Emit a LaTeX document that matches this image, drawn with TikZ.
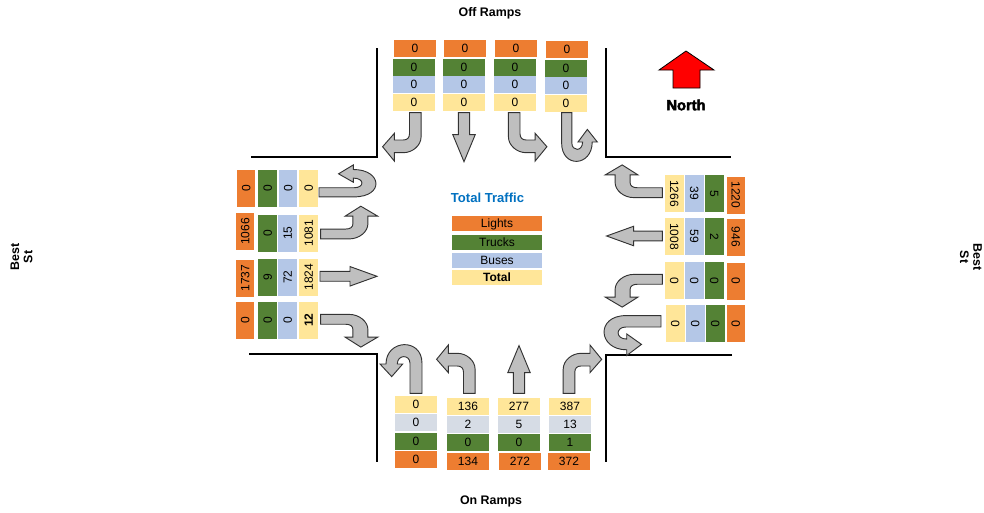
\documentclass[tikz,border=0pt]{standalone}
\usepackage{fontspec}
\setmainfont{Liberation Sans}
\newfontfamily\northfont[UprightFont=* Bold,FakeBold=3]{Liberation Sans}
\definecolor{lightscol}{HTML}{ED7D31}
\definecolor{truckscol}{HTML}{548235}
\definecolor{busescol}{HTML}{B4C7E7}
\definecolor{rampcol}{HTML}{D6DCE5}
\definecolor{totalcol}{HTML}{FFE699}
\definecolor{titlecol}{HTML}{0070C0}
\tikzset{
  cell/.style={inner sep=0pt,minimum width=31.5pt,minimum height=12.75pt,text height=6.5pt,text depth=0pt,font=\fontsize{9}{10}\selectfont},
  sidecell/.style={cell,minimum width=27.75pt,minimum height=14pt},
  legendcell/.style={cell,minimum width=67.5pt,minimum height=11.25pt},
  lights/.style={fill=lightscol},
  trucks/.style={fill=truckscol},
  buses/.style={fill=busescol},
  ramp/.style={fill=rampcol},
  total/.style={fill=totalcol},
  boldtotal/.style={fill=totalcol,font=\fontsize{9}{10}\selectfont\bfseries},
  heading/.style={font=\fontsize{9.3}{10}\selectfont\bfseries,align=center},
  road/.style={line width=1.5pt},
  blockarrow/.style={fill=black!25,draw=black!80,line width=.7pt,line join=miter},
  turnarrow/.pic={
    \draw[blockarrow] (5.8,0) -- (5.8,24) .. controls (5.8,33) and (-3,40) .. (-12,40)
      -- (-21,40) -- (-21,48.3) -- (-32.7,34) -- (-21,20.7) -- (-21,27.3) -- (-12,27.3)
      .. controls (-8,27.3) and (-5.8,25) .. (-5.8,21) -- (-5.8,0) -- cycle;
  },
  uturnarrow/.pic={
    \draw[blockarrow] (6,0) -- (6,30) .. controls (6,56) and (-30,54) .. (-30,29.3)
      -- (-36,29.3) -- (-24.3,16.7) -- (-13.3,29.3) -- (-18.7,29.3)
      .. controls (-18.7,39) and (-6,39) .. (-6,30) -- (-6,0) -- cycle;
  },
  pics/straightarrow/.style={code={
    \draw[blockarrow] (5.7,0) -- (5.7,#1) -- (11.2,#1) -- (0,#1+27) -- (-11.2,#1)
      -- (-5.7,#1) -- (-5.7,0) -- cycle;
  }},
}
\begin{document}
\begin{tikzpicture}[x=.75pt,y=.75pt]
\useasboundingbox (0,0) rectangle (984,512);
% Road corners :
\draw[road] (377,464) -- (377,355) -- (251,355);
\draw[road] (606,464) -- (606,355) -- (731,355);
\draw[road] (249,158) -- (377,158) -- (377,50);
\draw[road] (732,157) -- (606,157) -- (606,50);
% Off ramps :
\foreach \kind/\x/\y/\val [count=\i] in {lights/415/463.5/0,trucks/414/444.5/0,buses/414/427.5/0,total/414/409.5/0,
    lights/465/463.5/0,trucks/464/444.5/0,buses/464/427.5/0,total/464/409.5/0,
    lights/516/463.5/0,trucks/515/444.5/0,buses/515/427.5/0,total/515/409.5/0,
    lights/567/462.5/0,trucks/566/443.5/0,buses/566/426.5/0,total/566/408.5/0}
  \node[cell,\kind] (off\i) at (\x,\y) {\val};
% On ramps :
\foreach \kind/\x/\y/\val [count=\i] in {total/416/107.5/0,ramp/416/89.5/0,trucks/416/70.5/0,lights/416/52.5/0,
    total/468/105.5/136,ramp/468/87.5/2,trucks/468/69.5/0,lights/468/50.5/134,
    total/519/105.5/277,ramp/519/87.5/5,trucks/519/69.5/0,lights/520/50.5/272,
    total/570/105.5/387,ramp/570/87.5/13,trucks/570/69.5/1,lights/569/50.5/372}
  \node[cell,\kind] (on\i) at (\x,\y) {\val};
% West side :
\foreach \kind/\x/\y/\val [count=\i] in {lights/246/324/0,trucks/267.5/324/0,buses/288/324/0,total/308.5/324/0,
    lights/245/280.5/1066,trucks/267.5/279/0,buses/287.5/279/15,total/308.5/279/1081,
    lights/245/234/1737,trucks/267.5/235/9,buses/287.5/235/72,total/308.5/235/1824,
    lights/245/192/0,trucks/267.5/192/0,buses/287.5/192/0,boldtotal/308.5/192/12}
  \node[sidecell,rotate=90,\kind] (west\i) at (\x,\y) {\val};
% East side :
\foreach \kind/\x/\y/\val [count=\i] in {total/674.5/318.5/1266,buses/694.5/318.5/39,trucks/714.5/318.5/5,lights/736/317/1220,
    total/674.5/275.5/1008,buses/694.5/275.5/59,trucks/714.5/275.5/2,lights/736/275/946,
    total/674.5/231.5/0,buses/694.5/231.5/0,trucks/714.5/231.5/0,lights/736/231/0,
    total/675.5/188.5/0,buses/695.5/188.5/0,trucks/715.5/188.5/0,lights/736/188.5/0}
  \node[sidecell,rotate=-90,\kind] (east\i) at (\x,\y) {\val};
% Off ramp arrows :
\pic[rotate=180,xscale=-1] at (415.3,399.3) {turnarrow};
\pic[rotate=180] at (464,399.3) {straightarrow=22};
\pic[rotate=180] at (514.2,399.3) {turnarrow};
\pic[rotate=180,xscale=.85] at (566.7,399.3) {uturnarrow};
% On ramp arrows :
\pic at (416,118.7) {uturnarrow};
\pic at (469.3,118.7) {turnarrow};
\pic at (519,118.7) {straightarrow=20.7};
\pic[xscale=-1] at (569,118.7) {turnarrow};
% West arrows :
\pic[rotate=-90,xscale=.76,yscale=1.17] at (319,319.7) {uturnarrow};
\pic[rotate=-90,xscale=.85,yscale=1.18] at (320.7,278) {turnarrow};
\pic[rotate=-90,xscale=.87] at (320,235.7) {straightarrow=30};
\pic[rotate=-90,xscale=-.85,yscale=1.18] at (320.7,192.7) {turnarrow};
% East arrows :
\pic[rotate=90,xscale=-.85,yscale=1.18] at (662.3,319.3) {turnarrow};
\pic[rotate=90,xscale=.87] at (662.3,276) {straightarrow=28.7};
\pic[rotate=90,xscale=.85,yscale=1.18] at (662.3,232.7) {turnarrow};
\pic[rotate=90,xscale=.95,yscale=1.17] at (661,190.7) {uturnarrow};
% Legend :
\node[font=\fontsize{9.8}{10}\selectfont\bfseries,text=titlecol] (legendtitle) at (487.5,314) {Total Traffic};
\node[legendcell,lights] (legendlights) at (497,288.5) {Lights};
\node[legendcell,trucks] (legendtrucks) at (497,269.5) {Trucks};
\node[legendcell,buses] (legendbuses) at (497,251.5) {Buses};
\node[legendcell,boldtotal] (legendtotal) at (497,234.5) {Total};
% North arrow :
\draw[fill=red,draw=black,line width=.6pt] (673,424) -- (673,442) -- (659,442) -- (686,461) -- (714,442) -- (700,442) -- (700,424) -- cycle;
\node[font=\fontsize{11}{12}\selectfont\northfont] (north) at (686,407) {North};
% Street names :
\node[heading] (offramps) at (490,498.5) {Off Ramps};
\node[heading] (onramps) at (491,10.5) {On Ramps};
\node[heading,rotate=90] (westname) at (21.5,255) {Best\\St};
\node[heading,rotate=-90] (eastname) at (971,255) {Best\\St};
\end{tikzpicture}
\end{document}
